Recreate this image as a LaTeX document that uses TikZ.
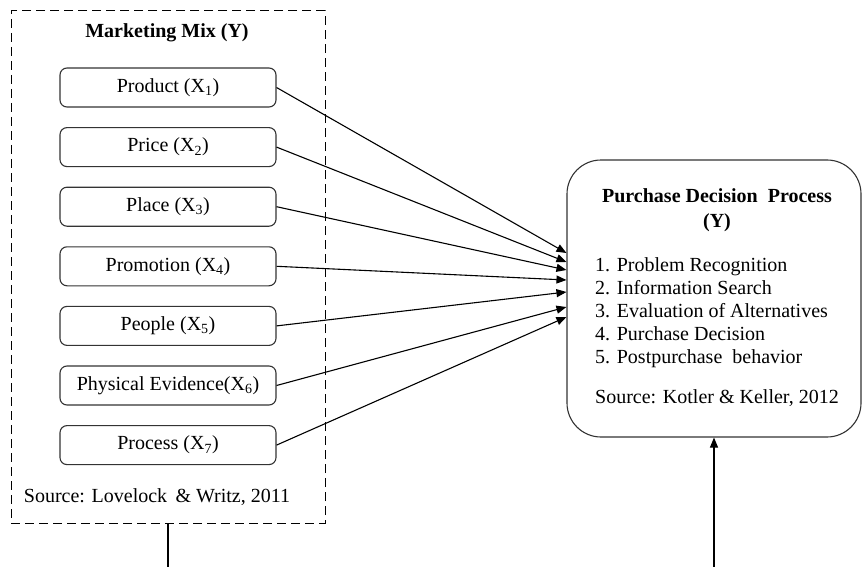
\documentclass[tikz,border=0pt]{standalone}
\usepackage{fontspec}
\setmainfont{Liberation Serif}
\usepackage{tikz}
\usetikzlibrary{arrows.meta,positioning}
\tikzset{
  mixbox/.style={draw=black!80,rounded corners=7pt,line width=1.1pt,minimum width=216pt,minimum height=39pt,inner sep=0pt},
  mixframe/.style={draw,dash pattern=on 9pt off 5pt,line width=1pt,minimum width=314pt,minimum height=512pt},
  pdpbox/.style={draw=black!80,rounded corners=34pt,line width=1.1pt,minimum width=294pt,minimum height=277pt},
  mixflow/.style={-{Triangle[length=10pt,width=8pt]},line width=1.1pt},
  mixtext/.style={inner sep=0pt,align=left},
}
\begin{document}
\begin{tikzpicture}[x=1pt,y=-1pt,font=\fontsize{20}{23}\selectfont,node distance=19.5pt]
\useasboundingbox (0,0) rectangle (864,567);
\node[mixframe] (mix) at (168,267) {};
\node[font=\fontsize{20}{23}\selectfont\bfseries] (mixtitle) at (167,33) {Marketing Mix (Y)};
\node[mixbox] (x1) at (168,87.5) {Product (X\textsubscript{1})};
\node[mixbox,below=of x1] (x2) {Price (X\textsubscript{2})};
\node[mixbox,below=of x2] (x3) {Place (X\textsubscript{3})};
\node[mixbox,below=of x3] (x4) {Promotion (X\textsubscript{4})};
\node[mixbox,below=of x4] (x5) {People (X\textsubscript{5})};
\node[mixbox,below=of x5] (x6) {Physical Evidence(X\textsubscript{6})};
\node[mixbox,below=of x6] (x7) {Process (X\textsubscript{7})};
\node (mixsrc) at (157,497) {Source: Lovelock \,\& Writz, 2011};
% purchase decision side
\node[pdpbox] (pdp) at (714,298.5) {};
\node[font=\fontsize{20}{25}\selectfont\bfseries,align=center] (pdptitle) at (717,210) {Purchase Decision \ Process\\(Y)};
\node[mixtext,anchor=north west] (pdplist) at (595,257) {1. Problem Recognition\\2. Information Search\\3. Evaluation of Alternatives\\4. Purchase Decision\\5. Postpurchase \ behavior};
\node[mixtext,anchor=base west] (pdpsrc) at (595,403.5) {Source: Kotler \& Keller, 2012};
\foreach \i/\dy in {1/45.5,2/36.5,3/28.5,4/18.5,5/6.5,6/-8.5,7/-18.5}
  \draw[mixflow] (x\i.east) -- ([yshift=\dy pt]pdp.west);
\coordinate (bottom) at (0,567);
\draw[line width=1.1pt] (mix.south) -- (mix.south |- bottom);
\draw[mixflow] (pdp.south |- bottom) -- (pdp.south);
\end{tikzpicture}
\end{document}
